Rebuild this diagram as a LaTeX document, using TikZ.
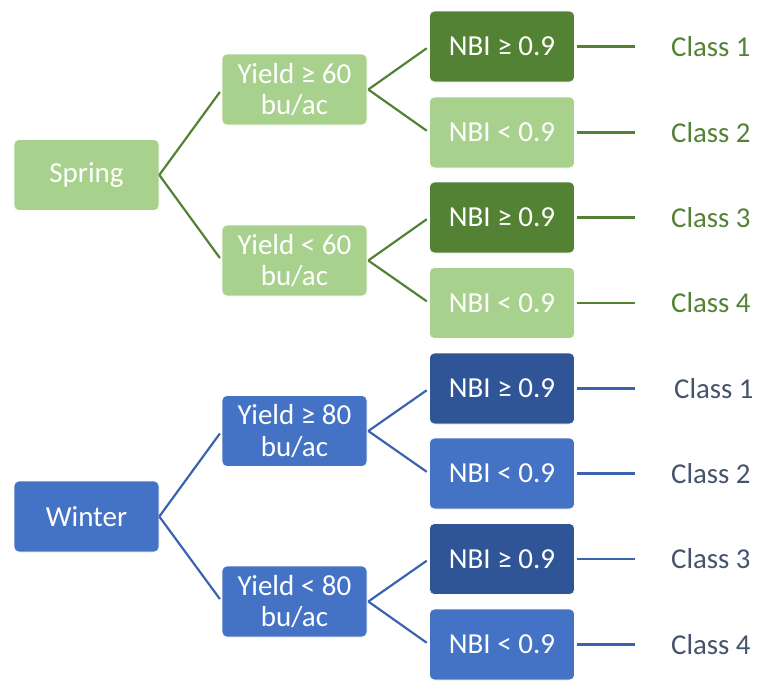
\documentclass[tikz,border=0pt]{standalone}
\usepackage{fontspec}
\setmainfont{Carlito}
\definecolor{lgreen}{HTML}{A9D18E}
\definecolor{dgreen}{HTML}{548235}
\definecolor{mblue}{HTML}{4472C4}
\definecolor{dblue}{HTML}{2F5597}
\definecolor{lineblue}{HTML}{3A63B0}
\definecolor{navy}{HTML}{44546A}
\begin{document}
\begin{tikzpicture}[x=1pt,y=-1pt,
  box/.style={rounded corners=5pt, minimum width=145pt, minimum height=71pt, inner sep=0pt,
    text=white, font=\fontsize{29}{31.5}\selectfont, align=center, draw=white, line width=0.6pt},
  lg/.style={box, fill=lgreen},
  dg/.style={box, fill=dgreen},
  mb/.style={box, fill=mblue},
  db/.style={box, fill=dblue},
  gline/.style={draw=dgreen, line width=2.2pt, shorten >=3pt},
  bline/.style={draw=lineblue, line width=2.2pt, shorten >=3pt},
  glab/.style={anchor=west, text=dgreen, inner sep=0pt, font=\fontsize{28.8}{31}\selectfont},
  blab/.style={anchor=west, text=navy, inner sep=0pt, font=\fontsize{28.8}{31}\selectfont}]
\useasboundingbox (0,0) rectangle (759,688);

% Spring
\node[lg] (spring) at (86.5,175) {Spring};
\node[lg] (sy1) at (294.5,89.5) {Yield ≥ 60\\bu/ac};
\node[lg] (sy2) at (294.5,260.5) {Yield < 60\\bu/ac};
\node[dg] (sn1) at (502,46.5) {NBI ≥ 0.9};
\node[lg] (sn2) at (502,132.5) {NBI < 0.9};
\node[dg] (sn3) at (502,217.5) {NBI ≥ 0.9};
\node[lg] (sn4) at (502,303) {NBI < 0.9};
\coordinate (sc1) at (635,46.5);
\coordinate (sc2) at (635,132.5);
\coordinate (sc3) at (635,217.5);
\coordinate (sc4) at (635,303);
\node[glab] (sl1) at (671,46.5) {Class 1};
\node[glab] (sl2) at (671,132.5) {Class 2};
\node[glab] (sl3) at (671,217.5) {Class 3};
\node[glab] (sl4) at (671,303) {Class 4};

\draw[gline] (spring.east) -- (sy1.west);
\draw[gline] (spring.east) -- (sy2.west);
\draw[gline] ([xshift=1pt]sy1.east) -- (sn1.west);
\draw[gline] ([xshift=1pt]sy1.east) -- (sn2.west);
\draw[gline] ([xshift=1pt]sy2.east) -- (sn3.west);
\draw[gline] ([xshift=1pt]sy2.east) -- (sn4.west);
\draw[gline, shorten >=0pt] ([xshift=2pt]sn1.east) -- (sc1);
\draw[gline, shorten >=0pt] ([xshift=2pt]sn2.east) -- (sc2);
\draw[gline, shorten >=0pt] ([xshift=2pt]sn3.east) -- (sc3);
\draw[gline, shorten >=0pt] ([xshift=2pt]sn4.east) -- (sc4);

% Winter
\node[mb] (winter) at (86.5,516.5) {Winter};
\node[mb] (wy1) at (294.5,431) {Yield ≥ 80\\bu/ac};
\node[mb] (wy2) at (294.5,601.5) {Yield < 80\\bu/ac};
\node[db] (wn1) at (502,388.5) {NBI ≥ 0.9};
\node[mb] (wn2) at (502,473.5) {NBI < 0.9};
\node[db] (wn3) at (502,559) {NBI ≥ 0.9};
\node[mb] (wn4) at (502,644.5) {NBI < 0.9};
\coordinate (wc1) at (635,388.5);
\coordinate (wc2) at (635,473.5);
\coordinate (wc3) at (635,559);
\coordinate (wc4) at (635,644.5);
\node[blab] (wl1) at (674,388.5) {Class 1};
\node[blab] (wl2) at (671,473.5) {Class 2};
\node[blab] (wl3) at (671,559) {Class 3};
\node[blab] (wl4) at (671,644.5) {Class 4};

\draw[bline] (winter.east) -- (wy1.west);
\draw[bline] (winter.east) -- (wy2.west);
\draw[bline] ([xshift=1pt]wy1.east) -- (wn1.west);
\draw[bline] ([xshift=1pt]wy1.east) -- (wn2.west);
\draw[bline] ([xshift=1pt]wy2.east) -- (wn3.west);
\draw[bline] ([xshift=1pt]wy2.east) -- (wn4.west);
\draw[bline, shorten >=0pt] ([xshift=2pt]wn1.east) -- (wc1);
\draw[bline, shorten >=0pt] ([xshift=2pt]wn2.east) -- (wc2);
\draw[bline, shorten >=0pt] ([xshift=2pt]wn3.east) -- (wc3);
\draw[bline, shorten >=0pt] ([xshift=2pt]wn4.east) -- (wc4);
\end{tikzpicture}
\end{document}
